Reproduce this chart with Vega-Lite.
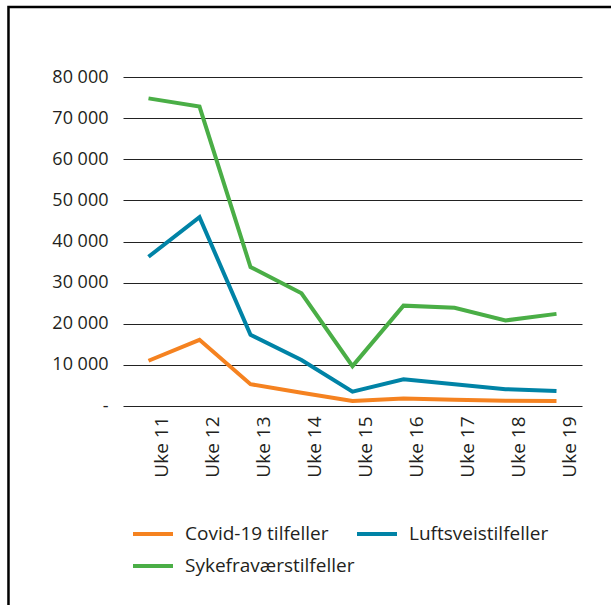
{
  "$schema": "https://vega.github.io/schema/vega-lite/v6.json",
  "width": 459,
  "height": 329,
  "autosize": {"type": "none"},
  "padding": {"left": 123, "top": 77, "right": 29, "bottom": 199},
  "background": "white",
  "config": {
    "view": {"stroke": null},
    "font": "Open Sans",
    "axis": {"labelFont": "Open Sans", "labelColor": "#231f20"},
    "legend": {"labelFont": "Open Sans"}
  },
  "datasets": {
    "frame": [{"fx0": -0.2495, "fx1": 1.3, "fy0": -100000, "fy1": 97000}],
    "cases": [
      {"uke": "Uke 11", "serie": "Covid-19 tilfeller", "antall": 11000},
      {"uke": "Uke 12", "serie": "Covid-19 tilfeller", "antall": 16100},
      {"uke": "Uke 13", "serie": "Covid-19 tilfeller", "antall": 5300},
      {"uke": "Uke 14", "serie": "Covid-19 tilfeller", "antall": 3200},
      {"uke": "Uke 15", "serie": "Covid-19 tilfeller", "antall": 1200},
      {"uke": "Uke 16", "serie": "Covid-19 tilfeller", "antall": 1850},
      {"uke": "Uke 17", "serie": "Covid-19 tilfeller", "antall": 1500},
      {"uke": "Uke 18", "serie": "Covid-19 tilfeller", "antall": 1300},
      {"uke": "Uke 19", "serie": "Covid-19 tilfeller", "antall": 1200},
      {"uke": "Uke 11", "serie": "Luftsveistilfeller", "antall": 36300},
      {"uke": "Uke 12", "serie": "Luftsveistilfeller", "antall": 45900},
      {"uke": "Uke 13", "serie": "Luftsveistilfeller", "antall": 17300},
      {"uke": "Uke 14", "serie": "Luftsveistilfeller", "antall": 11200},
      {"uke": "Uke 15", "serie": "Luftsveistilfeller", "antall": 3500},
      {"uke": "Uke 16", "serie": "Luftsveistilfeller", "antall": 6500},
      {"uke": "Uke 17", "serie": "Luftsveistilfeller", "antall": 5300},
      {"uke": "Uke 18", "serie": "Luftsveistilfeller", "antall": 4100},
      {"uke": "Uke 19", "serie": "Luftsveistilfeller", "antall": 3650},
      {"uke": "Uke 11", "serie": "Sykefraværstilfeller", "antall": 74800},
      {"uke": "Uke 12", "serie": "Sykefraværstilfeller", "antall": 72800},
      {"uke": "Uke 13", "serie": "Sykefraværstilfeller", "antall": 33800},
      {"uke": "Uke 14", "serie": "Sykefraværstilfeller", "antall": 27400},
      {"uke": "Uke 15", "serie": "Sykefraværstilfeller", "antall": 9700},
      {"uke": "Uke 16", "serie": "Sykefraværstilfeller", "antall": 24400},
      {"uke": "Uke 17", "serie": "Sykefraværstilfeller", "antall": 23900},
      {"uke": "Uke 18", "serie": "Sykefraværstilfeller", "antall": 20800},
      {"uke": "Uke 19", "serie": "Sykefraværstilfeller", "antall": 22400}
    ]
  },
  "resolve": {"scale": {"x": "independent", "y": "independent"}, "axis": {"x": "independent", "y": "independent"}},
  "layer": [
    {
      "data": {"name": "frame"},
      "mark": {"type": "rect", "fill": null, "stroke": "black", "strokeWidth": 2.5, "clip": false},
      "encoding": {
        "x": {"field": "fx0", "type": "quantitative", "scale": {"domain": [0, 1], "nice": false, "zero": false}, "axis": null},
        "x2": {"field": "fx1"},
        "y": {"field": "fy0", "type": "quantitative", "scale": {"domain": [0, 80000], "nice": false}, "axis": null},
        "y2": {"field": "fy1"}
      }
    },
    {
      "data": {"name": "cases"},
      "mark": {"type": "line", "strokeWidth": 4, "strokeJoin": "miter"},
      "encoding": {
        "x": {
          "field": "uke", "type": "nominal", "sort": null,
          "scale": {"type": "point", "padding": 0.5},
          "axis": {
            "title": null, "labelAngle": -90, "labelFontSize": 19, "labelPadding": 10,
            "labelOffset": 13, "ticks": false, "domain": false, "grid": false
          }
        },
        "y": {
          "field": "antall", "type": "quantitative",
          "scale": {"domain": [0, 80000], "nice": false},
          "axis": {
            "title": null, "values": [0, 10000, 20000, 30000, 40000, 50000, 60000, 70000, 80000],
            "labelExpr": "datum.value == 0 ? '-' : replace(format(datum.value, ','), ',', ' ')",
            "labelFontSize": 18, "labelPadding": 15, "ticks": false, "domain": false,
            "grid": true, "gridColor": "#222222", "gridWidth": 1, "gridOpacity": 1
          }
        },
        "color": {
          "field": "serie", "type": "nominal",
          "scale": {
            "domain": ["Covid-19 tilfeller", "Luftsveistilfeller", "Sykefraværstilfeller"],
            "range": ["#F58220", "#0083A6", "#4AAE46"]
          },
          "legend": {
            "title": null, "orient": "none", "legendX": 8, "legendY": 435,
            "direction": "horizontal", "columns": 2, "padding": 0,
            "symbolType": "stroke", "symbolSize": 1600, "symbolStrokeWidth": 4,
            "labelFontSize": 19, "labelColor": "#231f20", "labelOffset": 10,
            "rowPadding": -12, "columnPadding": -6, "labelLimit": 300
          }
        }
      }
    }
  ]
}
